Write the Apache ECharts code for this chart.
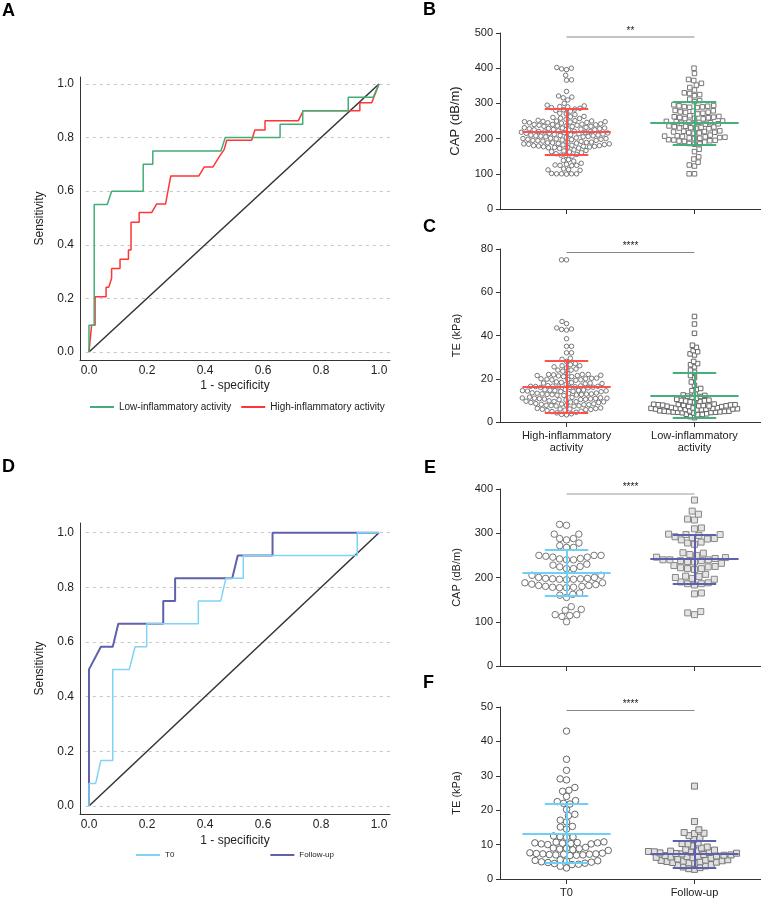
<!DOCTYPE html>
<html>
<head>
<meta charset="utf-8">
<script src="https://cdn.jsdelivr.net/npm/echarts@6.0.0/dist/echarts.min.js"></script>
<style>
  html, body { margin: 0; padding: 0; background: #fff; }
  #chart { width: 761px; height: 901px; }
</style>
</head>
<body>
<div id="chart"></div>
<script>
// ROC curves, points are [1 - specificity, sensitivity]
var rocLow = [[0, 0], [0, 0.1], [0.018, 0.1], [0.018, 0.55], [0.063, 0.55], [0.078, 0.6], [0.187, 0.6], [0.187, 0.7], [0.22, 0.7], [0.22, 0.75], [0.455, 0.75], [0.47, 0.8], [0.659, 0.8], [0.659, 0.85], [0.737, 0.85], [0.737, 0.9], [0.894, 0.9], [0.894, 0.95], [0.98, 0.95], [1, 1]]
var rocHigh = [[0, 0], [0.009, 0.1], [0.021, 0.1], [0.021, 0.206], [0.059, 0.206], [0.059, 0.241], [0.068, 0.241], [0.078, 0.275], [0.078, 0.311], [0.107, 0.311], [0.107, 0.346], [0.136, 0.346], [0.136, 0.38], [0.145, 0.38], [0.145, 0.484], [0.173, 0.484], [0.173, 0.52], [0.216, 0.52], [0.233, 0.552], [0.264, 0.552], [0.282, 0.657], [0.379, 0.657], [0.397, 0.69], [0.427, 0.69], [0.45, 0.73], [0.466, 0.755], [0.475, 0.79], [0.561, 0.79], [0.572, 0.828], [0.607, 0.828], [0.607, 0.863], [0.722, 0.863], [0.739, 0.9], [0.934, 0.9], [0.934, 0.93], [0.975, 0.93], [1, 1]]
var rocT0 = [[0, 0], [0, 0.083], [0.023, 0.083], [0.041, 0.167], [0.082, 0.167], [0.082, 0.5], [0.139, 0.5], [0.159, 0.583], [0.199, 0.583], [0.199, 0.667], [0.377, 0.667], [0.377, 0.75], [0.454, 0.75], [0.472, 0.833], [0.532, 0.833], [0.532, 0.917], [0.925, 0.917], [0.925, 1], [1, 1]]
var rocFollow = [[0, 0], [0, 0.5], [0.041, 0.583], [0.082, 0.583], [0.101, 0.667], [0.256, 0.667], [0.256, 0.75], [0.297, 0.75], [0.297, 0.833], [0.494, 0.833], [0.513, 0.917], [0.633, 0.917], [0.633, 1], [1, 1]]
var chanceLine = [[0, 0], [1, 1]]
var rocTicks = [0, 0.2, 0.4, 0.6, 0.8, 1]

var groupsBC = ['High-inflammatory\nactivity', 'Low-inflammatory\nactivity']
var groupsEF = ['T0', 'Follow-up']

// B: CAP (dB/m)
var capHigh = [402, 400, 398, 396, 380, 367, 366, 334, 321, 318, 316, 310, 300,
  295, 293, 291, 290, 288, 286, 284, 282, 280, 278, 272, 270, 268,
  263, 262, 260, 258, 257, 255,
  252, 251, 250, 250, 249, 248, 248, 247, 246, 245, 245, 244,
  242, 241, 240, 240, 239, 238, 238, 237, 236, 235, 235, 234,
  232, 231, 230, 230, 229, 228, 228, 227, 226, 225, 225, 224,
  222, 221, 220, 220, 219, 218, 218, 217, 216, 215, 215, 214, 213,
  212, 211, 210, 210, 209, 208, 208, 207, 206, 205, 205, 204,
  202, 201, 200, 200, 199, 198, 198, 197, 196, 195, 195, 194, 193, 192,
  190, 190, 189, 188, 188, 187, 186, 185, 185, 184, 183, 182, 181,
  180, 180, 179, 178, 178, 177, 176, 175, 175, 174, 173, 172,
  168, 166, 165, 163, 162, 160, 157, 155, 153, 152, 150, 140, 138, 136,
  130, 127, 125, 124, 124, 123, 114, 112, 111, 110, 101, 100, 100, 100, 100, 99]
var capLow = [400, 385, 368, 365, 357, 352, 345, 338, 330, 328, 325, 322, 312, 308, 305,
  296, 294, 293, 292, 291, 290, 289, 288,
  280, 279, 278, 276, 275, 274, 272, 270,
  265, 263, 262, 261, 260, 259, 258, 257, 256,
  250, 249, 248, 247, 246, 245, 244, 243, 242, 241,
  236, 235, 234, 233, 232, 231, 230, 229, 228,
  222, 221, 220, 219, 218, 217, 216, 215,
  210, 208, 207, 206, 205, 204, 203, 202, 201, 200,
  197, 196, 195, 194, 193, 192, 190, 186, 185, 184,
  170, 163, 148, 142, 133, 125, 122, 100, 100]

// C: TE (kPa)
var teHigh = [75, 75, 46.5, 45.5, 43.5, 43, 42.8, 42.5, 38.5, 35, 35, 32, 32, 29.5, 29, 28, 27, 26.5, 26, 26, 25.5, 25, 24.5, 24, 24, 23.5,
  22.5, 22, 22, 22, 21.8, 21.6, 21.5, 21.5, 21.3, 21, 21,
  20.3, 20.2, 20, 20, 19.8, 19.7, 19.5, 19.5, 19.3,
  18.5, 18.3, 18.2, 18, 18, 17.8, 17.7, 17.5,
  16.8, 16.7, 16.6, 16.5, 16.5, 16.4, 16.3, 16.2, 16.1, 16, 16, 15.8,
  15, 14.9, 14.8, 14.7, 14.6, 14.5, 14.5, 14.4, 14.3, 14.2, 14.1, 14,
  13.5, 13.4, 13.3, 13.2, 13, 13, 12.9, 12.8, 12.7, 12.6, 12.5, 12.4, 12.3,
  11.5, 11.4, 11.2, 11.1, 11, 11, 10.9, 10.8, 10.7, 10.6, 10.5, 10.4, 10.3, 10.2,
  9.8, 9.6, 9.5, 9.4, 9.3, 9.2, 9, 9,
  8.5, 8.4, 8.3, 8.2, 8, 8, 7.8, 7.7, 7.6, 7.5, 7.4, 7.3,
  6.5, 6.3, 6.2, 6, 6, 5.9, 5.8, 5.7, 5.5, 5.3,
  5, 4.8, 4.5, 4.2, 3.8, 3.5, 3.3]
var teLow = [48.8, 45.3, 41, 35.5, 34.5, 33, 32.5, 31.5, 31, 28, 27, 26.5, 25.5, 24, 23, 21.5, 20.5, 18.5, 17, 15.5, 15, 14.5,
  13, 12.5, 12.3, 12, 11.8, 11.5, 11, 10.5,
  10.1, 10, 9.8, 9.7, 9.5, 9.3, 9.1,
  8.3, 8.2, 8.1, 8, 8, 7.9, 7.8, 7.7, 7.6, 7.5, 7.5, 7.4, 7.3, 7.2, 7.1,
  6.7, 6.6, 6.5, 6.4, 6.3, 6.3, 6.2, 6.1, 6, 6, 5.9, 5.8, 5.7, 5.6,
  5.2, 5.1, 5, 5, 4.9, 4.8, 4.7, 4.6, 4.5, 4.5, 4.4, 4.3, 4.2,
  3.8, 3.6, 3.5, 3.4, 2.5, 2]

// E: CAP (dB/m)
var capT0 = [320, 318, 298, 298, 288, 285, 288, 278, 268, 268, 272,
  250, 248, 246, 242, 240, 240, 243, 246, 250, 250,
  228, 224, 220, 220, 225, 230,
  205, 200, 198, 197, 196, 195, 196, 197, 198, 200, 205,
  188, 185, 182, 180, 178, 177, 177, 178, 180, 182, 184, 188,
  162, 155, 160, 165, 126, 128, 134, 116, 114, 112, 116, 100]
var capFollow = [375, 350, 343, 332, 330, 312, 310,
  297, 297, 292, 290, 295, 298,
  287, 285, 278, 275, 280, 288,
  255, 250, 245, 243, 246, 252, 256,
  240, 238, 240, 235, 232, 236, 240, 238,
  225, 222, 220, 218, 220, 224, 227,
  207, 203, 200, 198, 196, 202,
  188, 186, 183, 186, 190,
  165, 163, 123, 116, 120]

// F: TE (kPa)
var teT0 = [43, 34.8, 31.6, 29.1, 28.8, 26.6, 25.8, 25.5, 24, 22.8, 22.5, 22, 21.8, 20.2, 18.8, 18.4, 17.1, 16.6, 15.3, 15.1, 14.5,
  12.5, 12.3, 12.2, 12.1,
  10.8, 10.7, 10.6, 10.5, 10.5, 10.4, 10.3, 10.2, 10.2, 10,
  9.2, 9, 8.9, 8.8, 8.7, 8.5, 8.3,
  7.6, 7.5, 7.4, 7.3, 7.3, 7.2, 7.2, 7.1, 7, 7, 6.9, 6.8,
  5.6, 5.4, 5.3, 5.2, 5, 4.9, 4.8, 4.6, 4.5, 4.3, 4.2, 3.7, 3.2]
var teFollow = [27, 16.7, 14.3, 13.5, 13.3, 13.2, 12.6, 12.1, 11.5, 10.5, 10.3, 10.2, 9.6, 9.3, 9,
  8.6, 8.4, 8.2, 8.1, 8, 7.9, 7.8, 7.7,
  7.6, 7.5, 7.4, 7.3, 7.1, 7, 6.9, 6.8, 6.7,
  6.6, 6.5, 6.4, 6.3, 6.2, 6.1, 5.8,
  5.6, 5.5, 5.4, 5.3, 5.2, 5.1, 5, 4.9, 4.8, 4.7, 4.6,
  4.2, 4, 3.8, 3.5, 3.3, 3, 2.8]

// mean, mean - SD, mean + SD
var capHighStats = [220, 153, 284]
var capLowStats = [245, 183, 305]
var teHighStats = [16.3, 4.4, 28.2]
var teLowStats = [12.2, 1.8, 22.7]
var capT0Stats = [210, 158, 262]
var capFollowStats = [243, 187, 296]
var teT0Stats = [13.2, 4.7, 21.8]
var teFollowStats = [7.4, 3.4, 11.2]

// significance bar height and stars
var sigB = [489, '**']
var sigC = [78.3, '****']
var sigE = [390, '****']
var sigF = [49, '****']

var FONT = '"Liberation Sans", Arial, sans-serif'
var GREEN = '#43ad77'
var RED = '#ff3535'
var LIGHTBLUE = '#7fd3f6'
var PURPLE = '#5f62aa'

var grids = [
  { left: 80, top: 77, width: 310, height: 283 }, // A
  { left: 500, top: 33, width: 261, height: 176 }, // B
  { left: 500, top: 249, width: 261, height: 173 }, // C
  { left: 80, top: 523, width: 310, height: 291 }, // D
  { left: 500, top: 489, width: 261, height: 177 }, // E
  { left: 500, top: 707, width: 261, height: 172 } // F
]
var XMIN = 0.48
var XMAX = 2.52

// beeswarm: each point goes as near the column centre as it can without overlapping
function swarm(values, center, pxY, pxX, d) {
  var pts = []
  var side = 1
  values.slice().sort(function(a, b) { return a - b }).forEach(function(v) {
    var y = v * pxY
    var near = pts.filter(function(p) { return Math.abs(p.y - y) < d })
    var cands = [0]
    near.forEach(function(p) {
      var dx = Math.sqrt(d * d - (p.y - y) * (p.y - y))
      cands.push(p.x + dx, p.x - dx)
    })
    var ok = cands.filter(function(c) {
      return near.every(function(p) {
        return (p.x - c) * (p.x - c) + (p.y - y) * (p.y - y) >= d * d - 0.01
      })
    })
    ok.sort(function(a, b) {
      var k = Math.abs(a) - Math.abs(b)
      if (Math.abs(k) > 0.05) return k
      return (b - a) * side
    })
    side = -side
    pts.push({ x: ok[0], y: y, v: v })
  })
  return pts.map(function(p) { return [center + p.x / pxX, p.v] })
}

function errorBars(c, st, color, w) {
  var ls = { color: color, width: w, type: 'solid' }
  return [
    [{ coord: [c - 0.345, st[0]], lineStyle: ls }, { coord: [c + 0.345, st[0]] }],
    [{ coord: [c - 0.17, st[2]], lineStyle: ls }, { coord: [c + 0.17, st[2]] }],
    [{ coord: [c - 0.17, st[1]], lineStyle: ls }, { coord: [c + 0.17, st[1]] }],
    [{ coord: [c, st[1]], lineStyle: ls }, { coord: [c, st[2]] }]
  ]
}

function sigBar(sig, color, w) {
  return [{
    coord: [1, sig[0]],
    lineStyle: { color: color, width: w, type: 'solid' },
    label: { show: true, formatter: sig[1], position: 'insideMiddleTop', distance: 1, fontSize: 10, color: '#222', fontFamily: FONT }
  }, { coord: [2, sig[0]] }]
}

function rocX(gi, name, gap) {
  return {
    type: 'value', gridIndex: gi, min: -0.031, max: 1.038,
    name: name, nameLocation: 'middle', nameGap: gap,
    nameTextStyle: { fontSize: 12, color: '#222', fontFamily: FONT },
    axisLine: { show: true, onZero: false, lineStyle: { color: '#333', width: 1 } },
    axisTick: { show: false },
    splitLine: { show: false },
    axisLabel: { customValues: rocTicks, formatter: function(v) { return v.toFixed(1) }, fontSize: 12, color: '#222', margin: 5, fontFamily: FONT }
  }
}
function rocY(gi, min, max) {
  return {
    type: 'value', gridIndex: gi, min: min, max: max,
    name: 'Sensitivity', nameLocation: 'middle', nameGap: 34,
    nameTextStyle: { fontSize: 12, color: '#222', fontFamily: FONT },
    axisLine: { show: true, onZero: false, lineStyle: { color: '#333', width: 1 } },
    axisTick: { show: false },
    splitLine: { show: false },
    axisLabel: { customValues: rocTicks, formatter: function(v) { return v.toFixed(1) }, fontSize: 12, color: '#222', margin: 6, fontFamily: FONT }
  }
}
function catX(gi, labels) {
  return {
    type: 'value', gridIndex: gi, min: XMIN, max: XMAX,
    axisLine: { show: true, onZero: false, lineStyle: { color: '#333', width: 1 } },
    axisTick: { show: true, customValues: [1, 2], length: 5, lineStyle: { color: '#333' } },
    splitLine: { show: false },
    axisLabel: {
      show: !!labels, customValues: [1, 2], margin: 8, fontSize: 11, lineHeight: 12, color: '#222', fontFamily: FONT,
      formatter: function(v) { return labels ? labels[Math.round(v) - 1] : '' }
    }
  }
}
function valY(gi, max, interval, name, nameSize) {
  return {
    type: 'value', gridIndex: gi, min: 0, max: max, interval: interval,
    name: name, nameLocation: 'middle', nameGap: 38,
    nameTextStyle: { fontSize: nameSize, color: '#222', fontFamily: FONT },
    axisLine: { show: true, onZero: false, lineStyle: { color: '#333', width: 1 } },
    axisTick: { show: true, length: 4, lineStyle: { color: '#333' } },
    splitLine: { show: false },
    axisLabel: { fontSize: 11, color: '#222', margin: 7, fontFamily: FONT }
  }
}

var yAxes = [
  rocY(0, -0.03, 1.026),
  valY(1, 500, 100, 'CAP (dB/m)', 13),
  valY(2, 80, 20, 'TE (kPa)', 11),
  rocY(3, -0.029, 1.0355),
  valY(4, 400, 100, 'CAP (dB/m)', 11),
  valY(5, 50, 10, 'TE (kPa)', 11)
]
var xAxes = [
  rocX(0, '1 - specificity', 20),
  catX(1, null),
  catX(2, groupsBC),
  rocX(3, '1 - specificity', 21),
  catX(4, null),
  catX(5, groupsEF)
]

function pxY(gi) { return grids[gi].height / (yAxes[gi].max - yAxes[gi].min) }
function pxX(gi) { return grids[gi].width / (XMAX - XMIN) }

function dots(gi, name, values, center, symbol, size, d, fill, border, stats, barColor, barW, sig, sigColor, sigW) {
  var ml = errorBars(center, stats, barColor, barW)
  if (sig) ml.push(sigBar(sig, sigColor, sigW))
  return {
    type: 'scatter', name: name, xAxisIndex: gi, yAxisIndex: gi,
    data: swarm(values, center, pxY(gi), pxX(gi), d),
    symbol: symbol, symbolSize: size,
    itemStyle: { color: fill, borderColor: border, borderWidth: 1, opacity: 1 },
    markLine: { silent: true, symbol: ['none', 'none'], label: { show: false }, data: ml }
  }
}

function gridLines() {
  return {
    silent: true, symbol: ['none', 'none'], z: 1, label: { show: false },
    lineStyle: { color: '#c6c6c6', type: [3, 4], width: 1 },
    data: rocTicks.map(function(v) { return [{ coord: [-0.011, v] }, { coord: [1.038, v] }] })
  }
}

var series = [
  // A
  { type: 'line', name: 'High-inflammatory activity', xAxisIndex: 0, yAxisIndex: 0, data: rocHigh, symbol: 'none', lineStyle: { color: RED, width: 1.5 }, itemStyle: { color: RED }, z: 3 },
  { type: 'line', name: 'Low-inflammatory activity', xAxisIndex: 0, yAxisIndex: 0, data: rocLow, symbol: 'none', lineStyle: { color: GREEN, width: 1.5 }, itemStyle: { color: GREEN }, z: 3 },
  { type: 'line', name: 'chanceA', xAxisIndex: 0, yAxisIndex: 0, data: chanceLine, symbol: 'none', lineStyle: { color: '#333', width: 1.5 }, z: 2, markLine: gridLines() },
  // D
  { type: 'line', name: 'Follow-up', xAxisIndex: 3, yAxisIndex: 3, data: rocFollow, symbol: 'none', lineStyle: { color: PURPLE, width: 2 }, itemStyle: { color: PURPLE }, z: 3 },
  { type: 'line', name: 'T0', xAxisIndex: 3, yAxisIndex: 3, data: rocT0, symbol: 'none', lineStyle: { color: LIGHTBLUE, width: 1.5 }, itemStyle: { color: LIGHTBLUE }, z: 4 },
  { type: 'line', name: 'chanceD', xAxisIndex: 3, yAxisIndex: 3, data: chanceLine, symbol: 'none', lineStyle: { color: '#333', width: 1.5 }, z: 2, markLine: gridLines() },
  // B
  dots(1, 'capHigh', capHigh, 1, 'circle', 4.5, 5, '#fff', '#777', capHighStats, '#ff5050', 2, null),
  dots(1, 'capLow', capLow, 2, 'rect', 4.5, 5.3, '#fff', '#777', capLowStats, '#45b07a', 2, sigB, '#c4c4c4', 2),
  // C
  dots(2, 'teHigh', teHigh, 1, 'circle', 4.5, 5, '#fff', '#777', teHighStats, '#ff5050', 2, null),
  dots(2, 'teLow', teLow, 2, 'rect', 4.5, 4.5, '#fff', '#666', teLowStats, '#45b07a', 2, sigC, '#888', 1),
  // E
  dots(4, 'capT0', capT0, 1, 'circle', 6.5, 7, '#fff', '#777', capT0Stats, '#6fd0f6', 2, null),
  dots(4, 'capFollow', capFollow, 2, 'rect', 6, 7, '#e4e4e4', '#888', capFollowStats, '#5f62aa', 2, sigE, '#bbb', 1.5),
  // F
  dots(5, 'teT0', teT0, 1, 'circle', 6.5, 6.5, '#fff', '#666', teT0Stats, '#6fd0f6', 2, null),
  dots(5, 'teFollow', teFollow, 2, 'rect', 6, 5.8, '#e0e0e0', '#777', teFollowStats, '#5f62aa', 2, sigF, '#888', 1)
]

function letter(t, x, y) {
  return { type: 'text', left: x, top: y, style: { text: t, font: 'bold 18px ' + FONT, fill: '#000' } }
}

var chart = echarts.init(document.getElementById('chart'))
chart.setOption({
  animation: false,
  backgroundColor: '#fff',
  textStyle: { fontFamily: FONT },
  grid: grids,
  xAxis: xAxes,
  yAxis: yAxes,
  legend: [
    {
      data: ['Low-inflammatory activity', 'High-inflammatory activity'],
      left: 90, top: 402, padding: 0, itemGap: 10, itemWidth: 24, itemHeight: 2, icon: 'rect',
      textStyle: { fontSize: 10, color: '#222', fontFamily: FONT }
    },
    {
      data: ['T0', 'Follow-up'],
      left: 136, top: 851, padding: 0, itemGap: 96, itemWidth: 24, itemHeight: 2, icon: 'rect',
      textStyle: { fontSize: 8, color: '#222', fontFamily: FONT }
    }
  ],
  graphic: [
    letter('A', 2, 2),
    letter('B', 423, 1),
    letter('C', 423, 218),
    letter('D', 2, 458),
    letter('E', 424, 459),
    letter('F', 423, 674)
  ],
  series: series
})
</script>
</body>
</html>
